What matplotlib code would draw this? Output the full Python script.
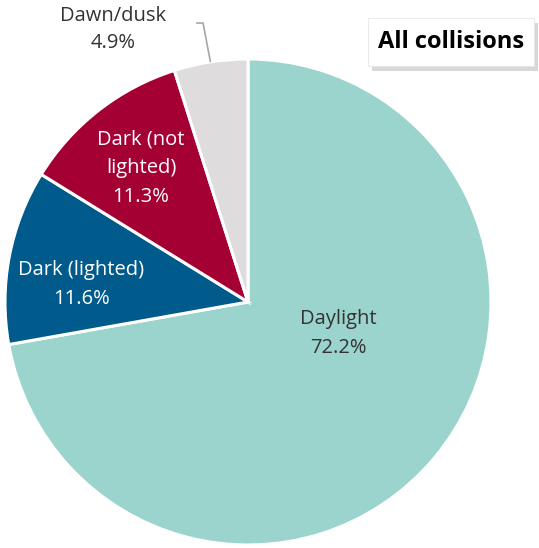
import matplotlib.pyplot as plt
from matplotlib.patches import Rectangle

# light condition categories and shares (%)
categories = ["Daylight", "Dark (lighted)", "Dark (not\nlighted)", "Dawn/dusk"]
shares = [72.2, 11.6, 11.3, 4.9]
colors = ["#9AD4CC", "#005A8C", "#A50034", "#DEDCDC"]
text_colors = ["#333333", "white", "white", "#333333"]
title = "All collisions"

plt.rcParams['font.family'] = ['Open Sans', 'DejaVu Sans']

fig = plt.figure(figsize=(5.39, 5.48), dpi=100)
W, H = 539, 548
cx, cy, r = 248, 302, 243
ax = fig.add_axes([(cx - r) / W, (H - cy - r) / H, 2 * r / W, 2 * r / H])

wedges, _ = ax.pie(shares, colors=colors, startangle=90, counterclock=False,
                   radius=1, wedgeprops=dict(edgecolor="white", linewidth=2.2))
ax.set_xlim(-1, 1)
ax.set_ylim(-1, 1)
ax.set_aspect("equal")
ax.axis("off")

# label positions in data units (pie radius = 1)
label_pos = [(0.37, -0.128), (-0.685, 0.07), (-0.44, 0.55), (-0.555, 1.12)]
spacing = [1.6, 1.6, 1.6, 1.45]
for name, val, (x, y), tc, ls in zip(categories, shares, label_pos, text_colors, spacing):
    ax.text(x, y, "{}\n{:.1f}%".format(name, val), ha="center", va="center",
            color=tc, fontsize=14.5, linespacing=ls, clip_on=False)

# leader line for the small slice
ax.plot([-0.21, -0.185, -0.155], [1.148, 1.148, 0.99], color="#A6A6A6",
        linewidth=1.2, clip_on=False)

# title box with shadow
bx0, by0, bw, bh = 368 / W, 1 - 66 / H, 166 / W, 48 / H
fig.patches.append(Rectangle((bx0 + 4 / W, by0 - 5 / H), bw, bh, transform=fig.transFigure,
                             facecolor="#BFBFBF", edgecolor="none", alpha=0.6, zorder=1))
fig.patches.append(Rectangle((bx0, by0), bw, bh, transform=fig.transFigure,
                             facecolor="white", edgecolor="#E6E6E6", linewidth=0.6, zorder=2))
fig.text(bx0 + bw / 2, by0 + bh / 2, title, ha="center", va="center",
         fontsize=17, fontweight="bold", color="black", zorder=3)

fig.savefig("out.png", dpi=100)
